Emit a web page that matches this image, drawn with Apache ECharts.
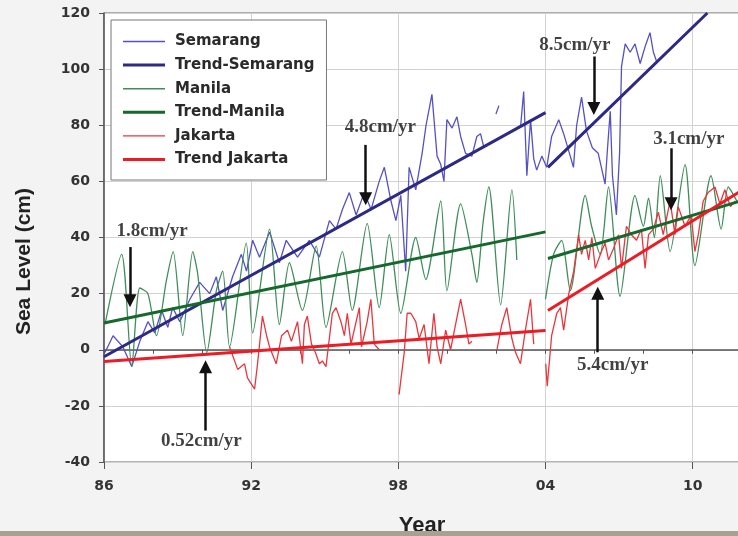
<!DOCTYPE html>
<html><head><meta charset="utf-8">
<script src="https://cdn.jsdelivr.net/npm/echarts@6/dist/echarts.min.js"></script>
<style>html,body{margin:0;padding:0;background:#f3f3f3}#c{width:738px;height:536px}</style>
</head><body><div id="c"></div><script>
// ---- data (year, sea level cm) ----
const semarang = [
 [1986.04,-1],[1986.37,5],[1986.77,1],[1987.13,-6],[1987.46,3],[1987.79,10],[1988.07,6],[1988.35,14],
 [1988.60,8],[1988.80,15],[1989.09,10],[1989.50,18],[1989.90,24],[1990.31,20],[1990.58,26],[1990.84,14],
 [1991.24,26],[1991.60,34],[1991.81,28],[1992.06,39],[1992.34,33],[1992.75,42],[1993.15,31],[1993.43,39],
 [1993.89,33],[1994.37,39],[1994.78,33],[1995.19,46],[1995.46,43],[1995.72,50],[1996.00,56],[1996.28,48],
 [1996.61,56],[1996.89,50],[1997.22,60],[1997.43,65],[1997.70,53],[1997.90,46],[1998.10,55],[1998.30,28],
 [1998.44,65],[1998.71,57],[1998.97,70],[1999.13,80],[1999.37,91],[1999.58,69],[1999.73,66],[1999.86,60],
 [1999.98,82],[2000.19,79],[2000.39,83],[2000.54,76],[2000.74,70],[2001.00,69],[2001.20,76],[2001.35,77],
 [2001.49,72],[2001.70,'-'],[2001.98,84],[2002.10,87],[2002.50,'-'],[2002.99,80],[2003.11,92],[2003.24,62],
 [2003.39,82],[2003.52,68],[2003.64,64],[2003.85,69],[2004.05,65],[2004.25,76],[2004.54,82],[2004.74,77],
 [2005.01,69],[2005.14,65],[2005.27,80],[2005.47,90],[2005.67,78],[2005.91,72],[2006.15,70],[2006.43,59],
 [2006.53,72],[2006.64,85],[2006.73,62],[2006.89,48],[2007.02,70],[2007.10,101],[2007.25,109],[2007.45,106],
 [2007.65,109],[2007.86,102],[2008.06,108],[2008.26,113],[2008.40,106],[2008.52,103]
];
const manila = [
 [1986.04,9],[1986.72,34],[1987.13,-6],[1987.46,22],[1987.79,20],[1988.14,5],[1988.55,25],[1988.82,35],
 [1989.21,5],[1989.62,35],[1989.82,27],[1990.19,-1],[1990.58,21],[1990.84,28],[1991.12,1],[1991.80,38],
 [1992.06,6],[1992.75,43],[1993.15,9],[1993.56,31],[1994.09,14],[1994.65,37],[1995.05,8],[1995.72,35],
 [1996.12,14],[1996.73,45],[1997.22,15],[1997.63,41],[1998.10,13],[1998.71,40],[1999.12,25],[1999.73,53],
 [1999.98,21],[2000.54,52],[2001.00,34],[2001.20,24],[2001.45,45],[2001.69,58],[2002.17,16],[2002.63,57],
 [2002.83,32],[2003.40,'-'],[2004.00,18],[2004.33,34],[2004.66,39],[2005.01,21],[2005.62,55],[2005.88,44],
 [2006.23,34],[2006.57,58],[2007.04,19],[2007.65,55],[2007.99,44],[2008.20,54],[2008.44,40],[2008.68,62],
 [2009.08,35],[2009.69,66],[2010.09,30],[2010.75,62],[2011.16,43],[2011.45,58],[2011.80,53]
];
const jakarta = [
 [1991.12,1],[1991.45,-7],[1991.73,-5],[1991.85,-10],[1992.14,-14],[1992.26,-5],[1992.46,12],[1992.63,5],
 [1992.75,1],[1993.02,-5],[1993.24,5],[1993.48,7],[1993.64,3],[1993.89,10],[1994.09,-5],[1994.17,9],
 [1994.29,12],[1994.46,2],[1994.62,-1],[1994.78,-5],[1994.90,-4],[1995.05,-6],[1995.31,13],[1995.46,15],
 [1995.66,10],[1995.80,5],[1995.92,13],[1996.07,2],[1996.41,15],[1996.50,1],[1996.73,10],[1996.88,18],
 [1997.02,2],[1997.22,0],[1997.60,'-'],[1998.03,-16],[1998.24,-1],[1998.36,13],[1998.51,13],[1998.71,10],
 [1998.85,4],[1999.05,9],[1999.25,-5],[1999.45,13],[1999.58,1],[1999.73,-5],[1999.93,7],[2000.13,0],
 [2000.31,8],[2000.54,18],[2000.74,9],[2000.88,2],[2001.00,3],[2001.50,'-'],[2002.02,0],[2002.22,9],
 [2002.42,15],[2002.63,4],[2002.78,-1],[2002.98,-5],[2003.18,7],[2003.39,18],[2003.52,2],[2003.80,'-'],
 [2004.01,-5],[2004.07,-13],[2004.25,5],[2004.46,13],[2004.61,15],[2004.74,7],[2004.95,20],[2005.15,28],
 [2005.35,41],[2005.47,34],[2005.62,39],[2005.76,32],[2005.89,40],[2006.03,29],[2006.28,35],[2006.43,38],
 [2006.57,32],[2006.77,36],[2006.98,41],[2007.10,29],[2007.30,44],[2007.50,41],[2007.71,39],[2007.91,43],
 [2008.06,29],[2008.20,41],[2008.40,43],[2008.60,49],[2008.80,41],[2009.08,53],[2009.28,41],[2009.41,51],
 [2009.69,44],[2009.94,48],[2010.09,35],[2010.23,41],[2010.43,53],[2010.63,56],[2010.91,58],[2011.11,52],
 [2011.31,57],[2011.54,51],[2011.74,53]
];
const trendSemarang = [[1986.0,-2.5],[2004.0,84.5],[2004.01,'-'],[2004.1,65],[2010.6,120]];
const trendManila   = [[1986.0,9.5],[2004.0,42],[2004.01,'-'],[2004.1,32.5],[2011.95,53]];
const trendJakarta  = [[1986.0,-4.2],[2004.0,6.9],[2004.01,'-'],[2004.1,14],[2011.95,56.5]];
// annotation labels [year, value, text] and arrows [tailYear, tailVal, tipYear, tipVal]
const rateLabels = [
 [1987.96,42.3,'1.8cm/yr'],[1989.97,-32.4,'0.52cm/yr'],[1997.27,79.5,'4.8cm/yr'],
 [2005.2,108.4,'8.5cm/yr'],[2009.84,75.1,'3.1cm/yr'],[2006.74,-5.3,'5.4cm/yr']
];
const rateArrows = [
 [1987.06,36.6,1987.06,17.5],[1990.14,-28.8,1990.14,-6.1],[1996.67,73,1996.67,53.8],
 [2005.97,104.5,2005.97,86],[2009.12,71.8,2009.12,52],[2006.13,-0.9,2006.13,20.1]
];
const legendNames = ['Semarang','Trend-Semarang','Manila','Trend-Manila','Jakarta','Trend Jakarta'];
const legendThick = [1.4,3,1.4,3,1.4,3];
const yTicks = {min:-40, max:120, step:20};
const xTicks = {min:1986, max:2011.93, minor:2, major:6};

const chart = echarts.init(document.getElementById('c'), null, {renderer:'canvas'});
const sansB = {fontFamily:'DejaVu Sans', fontWeight:'bold'};
function line(name, data, color, width, z, smooth){
  return {name, type:'line', data, symbol:'none', showSymbol:false, connectNulls:false, smooth:smooth||false,
    lineStyle:{color, width}, itemStyle:{color}, z, silent:true, clip:true};
}
chart.setOption({
  animation:false,
  backgroundColor:'#f3f3f3',
  grid:{left:104, top:13, right:-2, bottom:74, outerBoundsMode:'none', containLabel:false,
    show:true, backgroundColor:'#ffffff', borderColor:'#666', borderWidth:1},
  legend:{data:legendNames.map((n,i) => ({name:n,
      icon:'path://M0,0 L42,0 L42,' + legendThick[i] + ' L0,' + legendThick[i] + ' Z'})),
    orient:'vertical', left:111, top:20, itemWidth:42, itemHeight:14, itemGap:8.6,
    padding:[14,12,13,12], backgroundColor:'#ffffff', borderColor:'#777', borderWidth:1,
    textStyle:Object.assign({fontSize:15, color:'#2a2a2a', padding:[0,0,0,5]}, sansB), selectedMode:false},
  xAxis:[
    {type:'value', min:xTicks.min, max:xTicks.max, interval:xTicks.minor, position:'bottom',
     name:'Year', nameLocation:'middle', nameGap:53,
     nameTextStyle:{fontFamily:'Liberation Sans', fontWeight:'bold', fontSize:22, color:'#222'},
     axisLine:{lineStyle:{color:'#555', width:1.5}},
     axisTick:{length:4, lineStyle:{color:'#555'}},
     axisLabel:Object.assign({fontSize:14, color:'#333', margin:17, showMaxLabel:false,
       formatter:v => ((v - xTicks.min) % xTicks.major === 0) ? String(v % 100).padStart(2,'0') : ''}, sansB),
     splitLine:{show:false}},
    {type:'value', min:xTicks.min, max:xTicks.max, interval:xTicks.major, position:'bottom',
     axisLine:{show:false}, axisLabel:{show:false},
     axisTick:{length:7, lineStyle:{color:'#555'}},
     splitLine:{show:true, lineStyle:{color:'#d2d2d2', width:1}}}
  ],
  yAxis:{type:'value', min:yTicks.min, max:yTicks.max, interval:yTicks.step,
    axisLine:{show:true, lineStyle:{color:'#555', width:1.5}},
    axisTick:{show:true, length:5, lineStyle:{color:'#555'}},
    axisLabel:Object.assign({fontSize:14, color:'#333', margin:14}, sansB),
    splitLine:{lineStyle:{color:'#d2d2d2', width:1}}},
  series:[
    line('Semarang', semarang, '#5551c2', 1.3, 3),
    line('Manila', manila, '#3f8d5a', 1.3, 3, 0.25),
    line('Jakarta', jakarta, '#e8363c', 1.3, 3),
    line('Trend-Semarang', trendSemarang, '#2c2a86', 3, 5),
    line('Trend-Manila', trendManila, '#16692c', 3, 5),
    line('Trend Jakarta', trendJakarta, '#ec1c24', 3, 5),
    {name:'rates', type:'scatter', symbolSize:0, silent:true, z:10,
     data:rateLabels.map(r => ({value:[r[0], r[1]], name:r[2]})),
     label:{show:true, position:'inside', formatter:p => p.name,
       fontFamily:'Liberation Serif', fontWeight:'bold', fontSize:19, color:'#111'},
     markLine:{silent:true, animation:false, symbol:['none','triangle'], symbolSize:13,
       label:{show:false}, lineStyle:{color:'#111', width:2.5, type:'solid'},
       data:rateArrows.map(a => [{coord:[a[0],a[1]]},{coord:[a[2],a[3]]}])}}
  ],
  graphic:[
    {type:'text', left:14, top:188, rotation:Math.PI/2, z:50,
     style:{text:'Sea Level (cm)', fill:'#222', font:'bold 21px "Liberation Sans"'}},
    {type:'rect', left:0, top:531, shape:{width:738, height:5}, style:{fill:'#a8a192'}, z:100}
  ]
});
</script></body></html>
